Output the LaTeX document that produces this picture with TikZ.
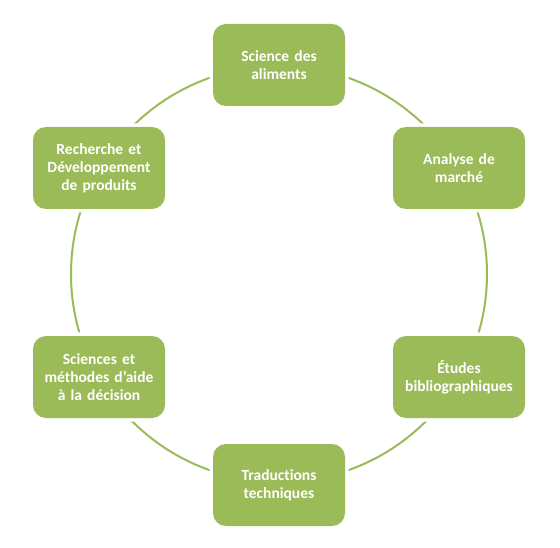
\documentclass[tikz,border=0pt]{standalone}
\usepackage{fontspec}
\setmainfont[Ligatures={NoCommon}]{Carlito}
\definecolor{leaf}{HTML}{9BBB59}
\begin{document}
\begin{tikzpicture}[x=1pt,y=-1pt,
  ring/.style={circle, draw=leaf, line width=2pt, minimum size=416pt, inner sep=0pt},
  card/.style={rectangle, rounded corners=13pt, fill=leaf, minimum width=132pt, minimum height=82pt,
    text=white, font=\bfseries\fontsize{15.5pt}{18pt}\selectfont, align=center, text width=124pt,
    inner sep=0pt, preaction={draw=white, line width=7pt}}]
\useasboundingbox[fill=white] (0,0) rectangle (560,548);
\node[ring] (ring) at (279,274) {};
\node[card] (a) at (279,65) {Science des\\aliments};
\node[card] (b) at (459,168) {Analyse de\\marché};
\node[card] (c) at (459,377) {Études\\bibliographiques};
\node[card] (d) at (279,485) {Traductions\\techniques};
\node[card] (e) at (99,377) {Sciences et\\méthodes d’aide\\à la décision};
\node[card] (f) at (99,168) {Recherche et\\Développement\\de produits};
\end{tikzpicture}
\end{document}
